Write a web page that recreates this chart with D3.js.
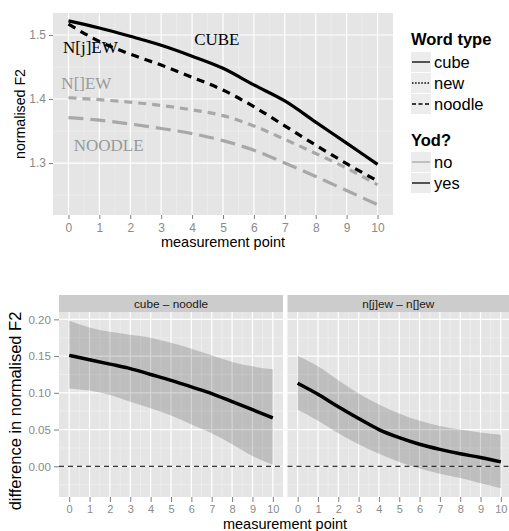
<!DOCTYPE html>
<html><head><meta charset="utf-8">
<script src="https://cdn.jsdelivr.net/npm/d3@7"></script>
<style>
body{margin:0;background:#fff;}
svg{display:block;font-family:"Liberation Sans",Arial,sans-serif;}
</style></head><body>
<svg id="c" width="509" height="531"></svg>
<script>
// ---------- data ----------
const points = [0,1,2,3,4,5,6,7,8,9,10];
const cubeYes   = [1.522,1.511,1.498,1.484,1.467,1.448,1.422,1.397,1.364,1.331,1.298];
const newYes    = [1.517,1.490,1.470,1.453,1.434,1.414,1.388,1.358,1.328,1.299,1.272];
const newNo     = [1.402,1.399,1.395,1.390,1.383,1.374,1.358,1.337,1.315,1.292,1.266];
const noodleNo  = [1.371,1.367,1.361,1.354,1.346,1.335,1.320,1.300,1.279,1.257,1.235];
const topYTicks = [1.3,1.4,1.5];
const topYMinor = [1.25,1.35,1.45];

const labelText = ["CUBE","N[j]EW","N[]EW","NOODLE"];
const labelX    = [4.8,0.71,0.58,1.3];
const labelY    = [1.485,1.472,1.416,1.319];
const labelYod  = ["yes","yes","no","no"];

const wordTypes = ["cube","new","noodle"];
const yodLevels = ["no","yes"];

const panels = ["cube – noodle","n[j]ew – n[]ew"];
const diffCube  = [0.151,0.145,0.139,0.133,0.125,0.117,0.108,0.099,0.088,0.077,0.066];
const diffCubeHi= [0.198,0.189,0.183,0.179,0.175,0.168,0.160,0.151,0.142,0.136,0.132];
const diffCubeLo= [0.106,0.103,0.097,0.088,0.079,0.069,0.057,0.045,0.030,0.014,0.002];
const diffNew   = [0.113,0.098,0.081,0.065,0.050,0.039,0.030,0.023,0.017,0.012,0.006];
const diffNewHi = [0.150,0.136,0.117,0.099,0.084,0.072,0.062,0.055,0.050,0.046,0.043];
const diffNewLo = [0.077,0.062,0.045,0.030,0.017,0.006,-0.003,-0.010,-0.016,-0.023,-0.030];
const botYTicks = [0,0.05,0.10,0.15,0.20];
const botYMinor = [-0.025,0.025,0.075,0.125,0.175];

// ---------- styles ----------
const PANEL="#e5e5e5", MINOR="#f2f2f2", GREY_LINE="#a8a8a8", GREY_TEXT="#999999", AXT="#8a8a8a";
const yodColor = {no:GREY_LINE, yes:"#000"};
const dashMain = {cube:null, new:"8,6", noodle:"15,7"};
const dashKey  = {cube:null, new:"1.5,1.6", noodle:"4,2.5"};

const svg = d3.select("#c");
const minorX = d3.range(-0.5,10.6,1).filter(v=>v>-0.5&&v<10.5);

function drawPanel(g, x, y, majY, minY){
  const [x0,x1]=x.range(), [y1,y0]=y.range();
  g.append("rect").attr("x",x0).attr("y",y0).attr("width",x1-x0).attr("height",y1-y0).attr("fill",PANEL);
  minY.forEach(v=>g.append("line").attr("x1",x0).attr("x2",x1).attr("y1",y(v)).attr("y2",y(v)).attr("stroke",MINOR).attr("stroke-width",0.6));
  minorX.forEach(v=>g.append("line").attr("y1",y0).attr("y2",y1).attr("x1",x(v)).attr("x2",x(v)).attr("stroke",MINOR).attr("stroke-width",0.6));
  majY.forEach(v=>g.append("line").attr("x1",x0).attr("x2",x1).attr("y1",y(v)).attr("y2",y(v)).attr("stroke","#fff").attr("stroke-width",1.2));
  points.forEach(v=>g.append("line").attr("y1",y0).attr("y2",y1).attr("x1",x(v)).attr("x2",x(v)).attr("stroke","#fff").attr("stroke-width",1.2));
}
function styleAxis(a, fs){
  a.select(".domain").remove();
  a.selectAll(".tick line").attr("stroke","#7f7f7f");
  a.selectAll(".tick text").attr("fill",AXT).style("font-size",fs+"px").style("font-family","Liberation Sans, Arial, sans-serif");
}

// ---------- top chart ----------
const xT = d3.scaleLinear().domain([-0.5,10.5]).range([53,393]);
const yT = d3.scaleLinear().domain([1.2188,1.5344]).range([215,13]);
const gT = svg.append("g");
drawPanel(gT, xT, yT, topYTicks, topYMinor);

const lineT = d3.line().x((d,i)=>xT(points[i])).y(d=>yT(d)).curve(d3.curveMonotoneX);
const topSeries = [
  {v:noodleNo, w:"noodle", yod:"no"},
  {v:newNo, w:"new", yod:"no"},
  {v:newYes, w:"new", yod:"yes"},
  {v:cubeYes, w:"cube", yod:"yes"}
];
topSeries.forEach(s=>{
  gT.append("path").attr("d",lineT(s.v)).attr("fill","none")
    .attr("stroke",yodColor[s.yod]).attr("stroke-width",3.2)
    .attr("stroke-dasharray",dashMain[s.w]);
});
labelText.forEach((t,i)=>{
  gT.append("text").attr("x",xT(labelX[i])).attr("y",yT(labelY[i]))
    .attr("text-anchor","middle").style("font-family","Liberation Serif, Times New Roman, serif")
    .style("font-size","17px").attr("fill",labelYod[i]==="yes"?"#000":GREY_TEXT).text(t);
});
const axTx = svg.append("g").attr("transform","translate(0,215)")
  .call(d3.axisBottom(xT).tickValues(points).tickSize(4).tickSizeOuter(0).tickPadding(4).tickFormat(d3.format("d")));
styleAxis(axTx,12);
const axTy = svg.append("g").attr("transform","translate(53,0)")
  .call(d3.axisLeft(yT).tickValues(topYTicks).tickSize(4).tickSizeOuter(0).tickPadding(3).tickFormat(d3.format(".1f")));
styleAxis(axTy,12);
svg.append("text").attr("x",223).attr("y",247).attr("text-anchor","middle").style("font-size","14.5px").text("measurement point");
svg.append("text").attr("transform","translate(25,114) rotate(-90)").attr("text-anchor","middle").style("font-size","14.2px").text("normalised F2");

// legend
const lg = svg.append("g");
lg.append("text").attr("x",411).attr("y",45).style("font-size","16.5px").style("font-weight","bold").text("Word type");
wordTypes.forEach((w,i)=>{
  const y0 = 52 + i*21;
  lg.append("rect").attr("x",411).attr("y",y0).attr("width",20).attr("height",20).attr("fill","#ececec");
  lg.append("line").attr("x1",412).attr("x2",430).attr("y1",y0+10).attr("y2",y0+10).attr("stroke","#000").attr("stroke-width",1.3).attr("stroke-dasharray",dashKey[w]);
  lg.append("text").attr("x",434).attr("y",y0+16).style("font-size","16.5px").text(w);
});
lg.append("text").attr("x",411).attr("y",146).style("font-size","16.5px").style("font-weight","bold").text("Yod?");
yodLevels.forEach((w,i)=>{
  const y0 = 152 + i*21;
  lg.append("rect").attr("x",411).attr("y",y0).attr("width",20).attr("height",20).attr("fill","#ececec");
  lg.append("line").attr("x1",412).attr("x2",430).attr("y1",y0+10).attr("y2",y0+10).attr("stroke",yodColor[w]).attr("stroke-width",1.3);
  lg.append("text").attr("x",434).attr("y",y0+16).style("font-size","16.5px").text(w);
});

// ---------- bottom chart ----------
const yB = d3.scaleLinear().domain([-0.0418,0.21]).range([497,312]);
const panelRanges = [[59,283],[287.5,511]];
const panelData = [[diffCube,diffCubeLo,diffCubeHi],[diffNew,diffNewLo,diffNewHi]];
panels.forEach((p,k)=>{
  const xB = d3.scaleLinear().domain([-0.5,10.5]).range(panelRanges[k]);
  const g = svg.append("g");
  drawPanel(g, xB, yB, botYTicks, botYMinor);
  const [m,lo,hi] = panelData[k];
  const area = d3.area().x((d,i)=>xB(points[i])).y0((d,i)=>yB(lo[i])).y1((d,i)=>yB(hi[i])).curve(d3.curveMonotoneX);
  g.append("path").attr("d",area(m)).attr("fill","rgba(0,0,0,0.17)");
  g.append("line").attr("x1",panelRanges[k][0]).attr("x2",panelRanges[k][1]).attr("y1",yB(0)).attr("y2",yB(0))
    .attr("stroke","#000").attr("stroke-width",1).attr("stroke-dasharray","5,4");
  const ln = d3.line().x((d,i)=>xB(points[i])).y(d=>yB(d)).curve(d3.curveMonotoneX);
  g.append("path").attr("d",ln(m)).attr("fill","none").attr("stroke","#000").attr("stroke-width",3.5);
  // strip
  g.append("rect").attr("x",panelRanges[k][0]).attr("y",295).attr("width",panelRanges[k][1]-panelRanges[k][0]).attr("height",17).attr("fill","#cccccc");
  g.append("text").attr("x",(k===0?(59+283)/2:(287.5+509)/2)).attr("y",307.5).attr("text-anchor","middle")
    .style("font-size","11.8px").attr("fill","#1a1a1a").text(p);
  const ax = svg.append("g").attr("transform","translate(0,497)")
    .call(d3.axisBottom(xB).tickValues(points).tickSize(5).tickSizeOuter(0).tickPadding(3.5).tickFormat(d3.format("d")));
  styleAxis(ax,11);
});
const axBy = svg.append("g").attr("transform","translate(59,0)")
  .call(d3.axisLeft(yB).tickValues(botYTicks).tickSize(5).tickSizeOuter(0).tickPadding(3).tickFormat(d3.format(".2f")));
styleAxis(axBy,11.6);
svg.append("text").attr("x",285).attr("y",529).attr("text-anchor","middle").style("font-size","14.5px").text("measurement point");
svg.append("text").attr("transform","translate(21,411) rotate(-90)").attr("text-anchor","middle").style("font-size","16.5px").text("difference in normalised F2");
</script></body></html>
